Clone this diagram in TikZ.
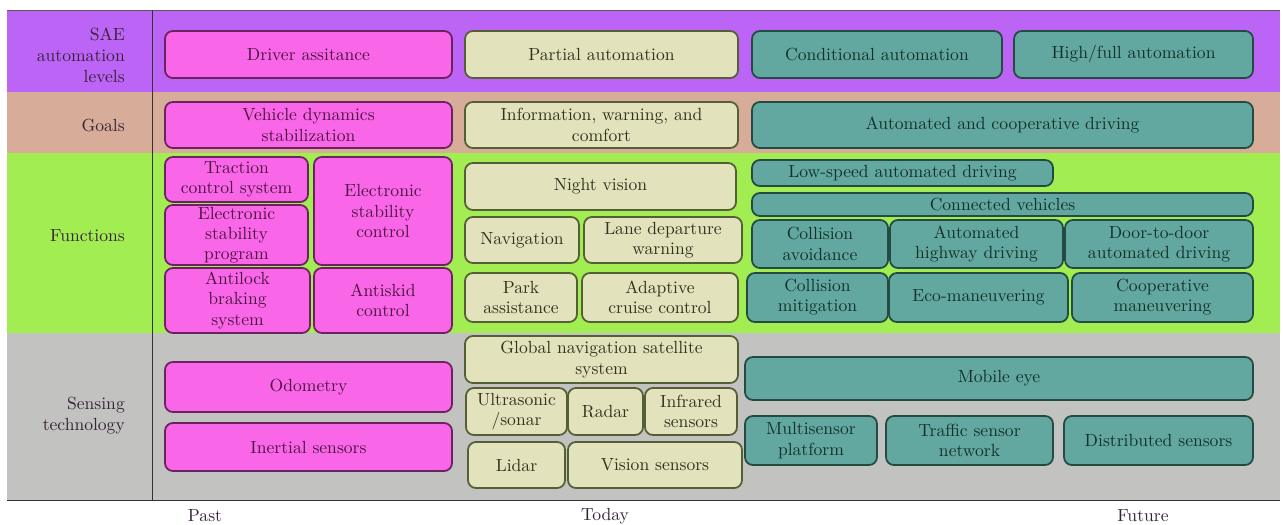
\documentclass[tikz,border=0pt]{standalone}
\usetikzlibrary{fit}
\definecolor{saeband}{RGB}{188,100,245}
\definecolor{goalband}{RGB}{215,172,152}
\definecolor{funcband}{RGB}{162,238,82}
\definecolor{sensband}{RGB}{194,194,192}
\definecolor{pastfill}{RGB}{250,102,232}
\definecolor{pastline}{RGB}{105,35,95}
\definecolor{pasttext}{RGB}{75,20,65}
\definecolor{todayfill}{RGB}{226,226,188}
\definecolor{todayline}{RGB}{85,95,55}
\definecolor{todaytext}{RGB}{50,50,30}
\definecolor{futfill}{RGB}{98,168,160}
\definecolor{futline}{RGB}{35,75,65}
\definecolor{futtext}{RGB}{20,48,42}
\definecolor{labeltext}{RGB}{55,35,55}
\tikzset{
	boxtext/.style={inner sep=0pt, align=center, font=\fontsize{10}{11.5}\selectfont},
	box/.style={draw, rounded corners=4.5pt, line width=1pt, inner sep=0pt},
	pastbox/.style={box, fill=pastfill, draw=pastline, label={[boxtext,text=pasttext]center:{#1}}},
	todaybox/.style={box, fill=todayfill, draw=todayline, label={[boxtext,text=todaytext]center:{#1}}},
	futbox/.style={box, fill=futfill, draw=futline, label={[boxtext,text=futtext]center:{#1}}},
	rowlabel/.style={anchor=east, align=right, text=labeltext, font=\fontsize{10}{12}\selectfont},
	eralabel/.style={text=labeltext, font=\fontsize{10}{12}\selectfont}
}
\begin{document}
\begin{tikzpicture}[x=0.02cm,y=-0.02cm]
		\useasboundingbox (0,0) rectangle (1283,524);
		\fill[saeband] (7,10) rectangle (1280,92);
		\fill[goalband] (7,92) rectangle (1280,153);
		\fill[funcband] (7,153) rectangle (1280,333);
		\fill[sensband] (7,333) rectangle (1280,500);
		\draw[gray!70!black,thin] (7,10) -- (1280,10);
		\draw[gray!40!black,thin] (7,500) -- (1280,500);
		\draw[black!80,thin] (152,10) -- (152,500);

		\node[rowlabel] (lsae) at (131,55) {SAE\\automation\\levels};
		\node[rowlabel] (lgoal) at (131,125) {Goals};
		\node[rowlabel] (lfunc) at (131,236) {Functions};
		\node[rowlabel] (lsens) at (131,416) {Sensing\\technology};

		\node[pastbox={Driver assitance}, fit={(165,31) (452,78)}] (drv) {};
		\node[todaybox={Partial automation}, fit={(465,31) (738,78)}] (part) {};
		\node[futbox={Conditional automation}, fit={(752,31) (1002,78)}] (cond) {};
		\node[futbox={High/full automation}, fit={(1014,31) (1253,78)}] (full) {};

		\node[pastbox={Vehicle dynamics\\stabilization}, fit={(165,102) (452,148)}] (vds) {};
		\node[todaybox={Information, warning, and\\comfort}, fit={(465,102) (738,148)}] (info) {};
		\node[futbox={Automated and cooperative driving}, fit={(752,102) (1253,148)}] (acd) {};

		\node[pastbox={Traction\\control system}, fit={(165,157) (308,202)}] (tcs) {};
		\node[pastbox={Electronic\\stability\\program}, fit={(165,205) (308,265)}] (esp) {};
		\node[pastbox={Electronic\\stability\\control}, fit={(314,157) (452,265)}] (esc) {};
		\node[pastbox={Antilock\\braking\\system}, fit={(165,268) (310,333)}] (abs) {};
		\node[pastbox={Antiskid\\control}, fit={(314,268) (452,333)}] (asc) {};

		\node[todaybox={Night vision}, fit={(465,163) (736,210)}] (nv) {};
		\node[todaybox={Navigation}, fit={(465,217) (579,263)}] (nav) {};
		\node[todaybox={Lane departure\\warning}, fit={(584,217) (742,263)}] (ldw) {};
		\node[todaybox={Park\\assistance}, fit={(465,273) (577,322)}] (park) {};
		\node[todaybox={Adaptive\\cruise control}, fit={(582,273) (738,322)}] (acc) {};

		\node[futbox={Low-speed automated driving}, fit={(752,160) (1053,186)}] (lsad) {};
		\node[futbox={Connected vehicles}, fit={(752,193) (1253,216)}] (cv) {};
		\node[futbox={Collision\\avoidance}, fit={(752,220) (888,268)}] (ca) {};
		\node[futbox={Automated\\highway driving}, fit={(890,220) (1063,268)}] (ahd) {};
		\node[futbox={Door-to-door\\automated driving}, fit={(1065,220) (1253,268)}] (dtd) {};
		\node[futbox={Collision\\mitigation}, fit={(747,273) (888,322)}] (cm) {};
		\node[futbox={Eco-maneuvering}, fit={(889,273) (1068,322)}] (eco) {};
		\node[futbox={Cooperative\\maneuvering}, fit={(1072,273) (1253,322)}] (coop) {};

		\node[pastbox={Odometry}, fit={(165,362) (452,412)}] (odo) {};
		\node[pastbox={Inertial sensors}, fit={(165,423) (452,471)}] (ins) {};

		\node[todaybox={Global navigation satellite\\system}, fit={(465,336) (738,383)}] (gnss) {};
		\node[todaybox={Ultrasonic\\/sonar}, fit={(466,388) (567,435)}] (sonar) {};
		\node[todaybox={Radar}, fit={(568,388) (643,435)}] (radar) {};
		\node[todaybox={Infrared\\sensors}, fit={(645,388) (737,435)}] (ir) {};
		\node[todaybox={Lidar}, fit={(468,442) (565,488)}] (lidar) {};
		\node[todaybox={Vision sensors}, fit={(568,442) (742,488)}] (vis) {};

		\node[futbox={Mobile eye}, fit={(745,357) (1253,400)}] (meye) {};
		\node[futbox={Multisensor\\platform}, fit={(745,416) (877,465)}] (msp) {};
		\node[futbox={Traffic sensor\\network}, fit={(886,416) (1053,465)}] (tsn) {};
		\node[futbox={Distributed sensors}, fit={(1064,416) (1253,465)}] (dsens) {};

		\node[eralabel] (past) at (205,516) {Past};
		\node[eralabel] (today) at (605,516) {Today};
		\node[eralabel] (future) at (1143,516) {Future};
	    \end{tikzpicture}
\end{document}
